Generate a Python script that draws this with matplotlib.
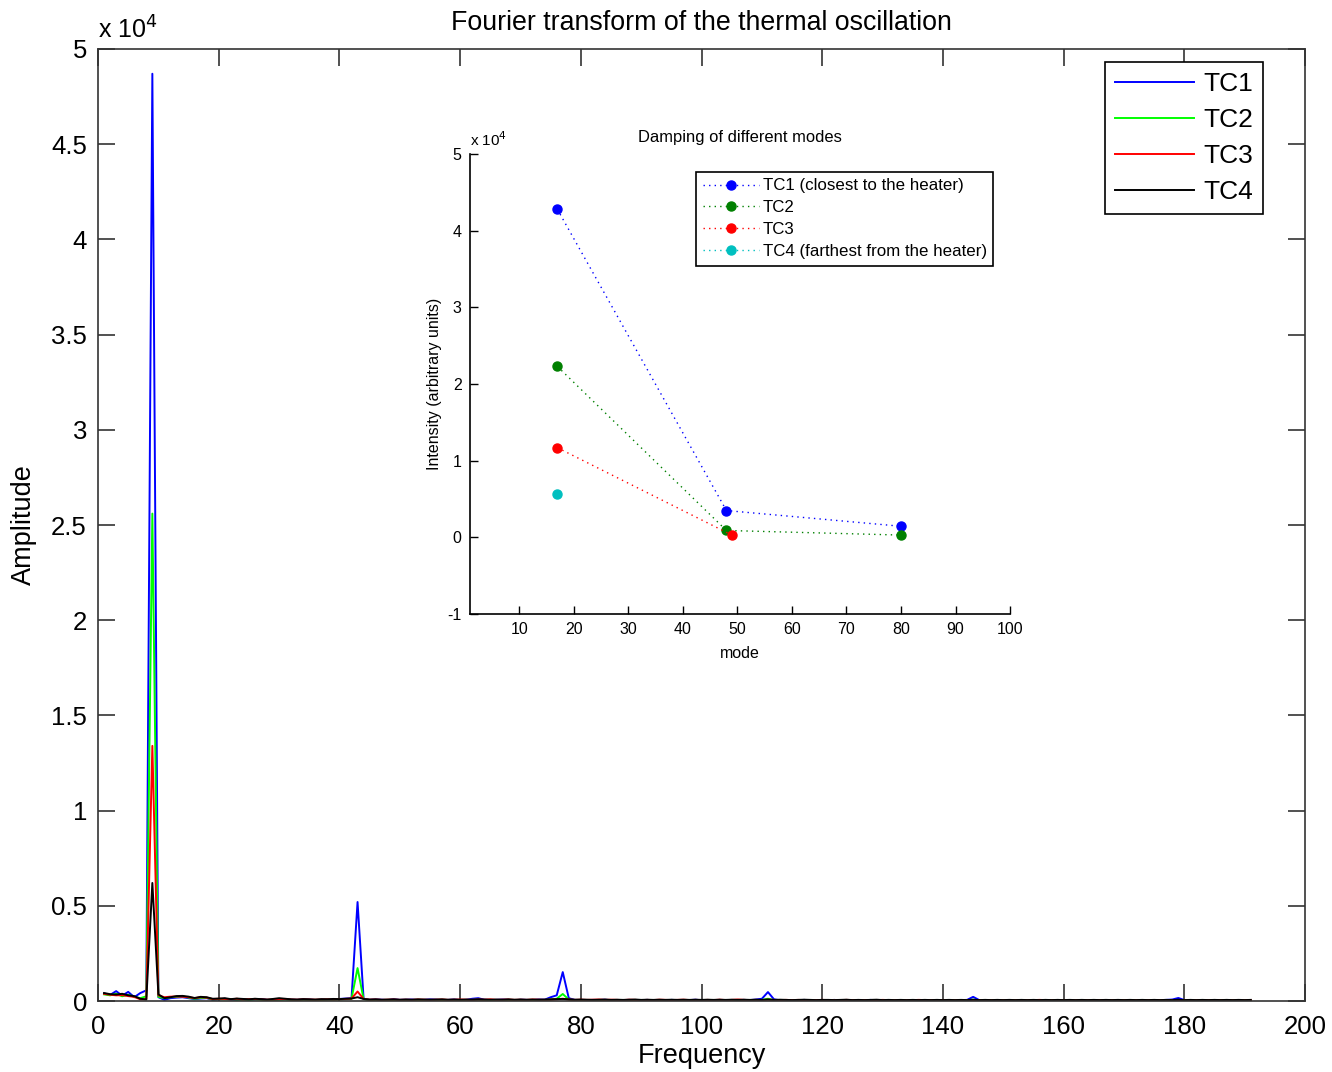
import matplotlib
matplotlib.use("Agg")
import matplotlib.pyplot as plt
from matplotlib.ticker import FuncFormatter
import numpy as np

plt.rcParams['font.family'] = ['Liberation Sans', 'DejaVu Sans']

# frequency bins of the FFT (1..191)
freq = np.arange(1, 192)

# amplitude spectra of the four thermocouples
tc1 = [400, 320, 520, 280, 480, 200, 420, 560, 48700, 200,
       60, 150, 180, 200, 150, 100, 130, 150, 60, 90,
       120, 80, 60, 100, 70, 90, 110, 60, 50, 80,
       100, 70, 60, 90, 80, 50, 70, 100, 90, 110,
       130, 150, 5200, 120, 60, 80, 70, 50, 90, 60,
       70, 80, 50, 60, 90, 70, 40, 60, 80, 50,
       60, 120, 150, 70, 50, 60, 80, 60, 40, 70,
       60, 50, 80, 70, 200, 300, 1520, 150, 60, 50,
       40, 60, 50, 70, 40, 30, 50, 60, 40, 50,
       60, 40, 50, 30, 60, 50, 40, 50, 70, 40,
       50, 40, 60, 30, 50, 40, 60, 50, 80, 120,
       470, 90, 40, 50, 30, 40, 60, 40, 30, 50,
       40, 60, 30, 40, 50, 30, 40, 60, 40, 30,
       50, 40, 30, 50, 40, 30, 40, 50, 30, 40,
       30, 40, 50, 60, 220, 50, 30, 40, 30, 50,
       40, 30, 40, 50, 30, 40, 30, 40, 50, 30,
       40, 30, 50, 40, 30, 40, 30, 40, 30, 50,
       40, 30, 40, 30, 40, 50, 60, 80, 160, 50,
       30, 40, 30, 40, 30, 40, 30, 40, 30, 40, 30]
tc2 = [350, 300, 380, 250, 330, 220, 150, 250, 25600, 220,
       150, 200, 220, 250, 180, 120, 160, 170, 80, 100,
       90, 100, 70, 80, 60, 90, 70, 50, 60, 70,
       80, 60, 50, 70, 60, 50, 60, 80, 70, 90,
       100, 120, 1730, 100, 50, 60, 50, 40, 60, 50,
       60, 50, 40, 50, 60, 50, 40, 50, 60, 40,
       50, 60, 70, 50, 40, 50, 60, 40, 50, 60,
       50, 40, 60, 50, 80, 120, 370, 80, 50, 40,
       50, 40, 30, 50, 40, 30, 40, 50, 30, 40,
       40, 30, 40, 30, 50, 40, 30, 40, 50, 30,
       40, 30, 40, 30, 40, 30, 40, 50, 40, 60,
       120, 50, 30, 40, 30, 40, 30, 40, 30, 40,
       30, 40, 30, 40, 30, 40, 30, 40, 30, 40,
       40, 30, 40, 30, 40, 30, 40, 30, 40, 30,
       30, 40, 30, 40, 70, 40, 30, 40, 30, 40,
       30, 40, 30, 40, 30, 40, 30, 40, 30, 40,
       30, 40, 30, 40, 30, 40, 30, 40, 30, 40,
       30, 40, 30, 40, 30, 40, 30, 40, 50, 40,
       30, 40, 30, 40, 30, 40, 30, 40, 30, 40, 30]
tc3 = [380, 330, 300, 310, 260, 220, 90, 100, 13400, 300,
       200, 230, 240, 230, 200, 150, 200, 180, 100, 120,
       110, 90, 120, 80, 100, 110, 90, 70, 80, 100,
       110, 80, 70, 90, 80, 70, 80, 90, 80, 90,
       110, 130, 500, 110, 70, 80, 60, 70, 80, 60,
       70, 60, 80, 70, 60, 70, 80, 60, 70, 80,
       70, 60, 80, 70, 90, 60, 70, 80, 60, 70,
       60, 80, 70, 60, 70, 90, 120, 80, 60, 70,
       60, 70, 80, 60, 70, 60, 50, 70, 60, 50,
       60, 50, 70, 60, 50, 60, 70, 50, 60, 50,
       60, 50, 70, 50, 60, 80, 60, 50, 60, 50,
       70, 60, 50, 60, 50, 60, 50, 40, 50, 60,
       50, 40, 50, 60, 50, 40, 50, 40, 50, 60,
       50, 40, 50, 40, 50, 60, 50, 40, 50, 40,
       50, 40, 50, 40, 50, 40, 50, 40, 50, 40,
       50, 40, 50, 40, 50, 60, 50, 40, 50, 40,
       50, 40, 50, 40, 50, 40, 50, 40, 50, 40,
       50, 40, 50, 40, 50, 40, 50, 40, 50, 40,
       50, 40, 50, 40, 50, 40, 50, 40, 50, 40, 50]
tc4 = [420, 360, 340, 380, 300, 260, 120, 80, 6200, 350,
       150, 200, 260, 270, 230, 160, 220, 200, 120, 130,
       150, 100, 130, 110, 90, 120, 100, 80, 110, 150,
       120, 90, 80, 100, 90, 80, 100, 90, 110, 100,
       120, 130, 200, 110, 80, 90, 70, 80, 90, 70,
       80, 70, 90, 80, 70, 80, 90, 70, 80, 70,
       80, 70, 90, 80, 70, 80, 70, 90, 70, 80,
       70, 80, 70, 80, 90, 100, 110, 90, 70, 80,
       70, 60, 70, 80, 60, 70, 60, 70, 80, 60,
       70, 60, 70, 60, 70, 60, 70, 60, 70, 60,
       70, 60, 70, 60, 70, 60, 70, 60, 70, 60,
       80, 60, 70, 60, 50, 60, 70, 60, 50, 60,
       60, 50, 60, 70, 50, 60, 50, 60, 70, 50,
       60, 50, 60, 50, 60, 50, 60, 50, 60, 50,
       60, 50, 60, 50, 70, 50, 60, 50, 60, 50,
       60, 50, 60, 50, 60, 50, 60, 50, 60, 50,
       60, 50, 60, 50, 60, 50, 60, 50, 60, 50,
       60, 50, 60, 50, 60, 50, 60, 50, 70, 50,
       60, 50, 60, 50, 60, 50, 60, 50, 60, 50, 60]

# inset: peak intensity per mode
modes_tc1 = [17, 48, 80]
peaks_tc1 = [42800, 3500, 1450]
modes_tc2 = [17, 48, 80]
peaks_tc2 = [22300, 900, 300]
modes_tc3 = [17, 49]
peaks_tc3 = [11700, 300]
modes_tc4 = [17]
peaks_tc4 = [5600]

fig = plt.figure(figsize=(13.32, 10.72), dpi=100)
ax = fig.add_axes([0.0736, 0.0662, 0.9062, 0.8881])

ax.plot(freq, tc1, color='#0000ff', lw=1.4, label='TC1')
ax.plot(freq, tc2, color='#00ff00', lw=1.4, label='TC2')
ax.plot(freq, tc3, color='#ff0000', lw=1.4, label='TC3')
ax.plot(freq, tc4, color='#000000', lw=1.4, label='TC4')

ax.set_xlim(0, 200)
ax.set_ylim(0, 50000)
ax.set_xticks(np.arange(0, 201, 20))
ax.set_yticks(np.arange(0, 50001, 5000))
ax.yaxis.set_major_formatter(FuncFormatter(lambda v, p: f'{v/1e4:g}'))
ax.tick_params(direction='in', length=12, width=1.2, top=True, right=True,
               labelsize=18.5, color='#333333')
ax.tick_params(axis='x', pad=10)
ax.tick_params(axis='y', pad=8)
for s in ax.spines.values():
    s.set_color('#333333')
    s.set_linewidth(1.2)
ax.set_xlabel('Frequency', fontsize=19.5, labelpad=3)
ax.set_ylabel('Amplitude', fontsize=19.5, labelpad=10)
ax.set_title('Fourier transform of the thermal oscillation', fontsize=19.3, pad=14)
ax.text(0.0, 1.006, r'x 10$^{4}$', transform=ax.transAxes, fontsize=18,
        ha='left', va='bottom')

leg = ax.legend(loc='upper right', bbox_to_anchor=(0.9653, 0.986), fontsize=19,
                handlelength=3.0, labelspacing=0.46, fancybox=False,
                framealpha=1, handletextpad=0.35, borderpad=0.37,
                borderaxespad=0)
leg.get_frame().set_edgecolor('#000000')
leg.get_frame().set_linewidth(1.2)

# inset axes
ins = fig.add_axes([0.3529, 0.4272, 0.4054, 0.4291])
ins.plot(modes_tc1, peaks_tc1, color='#0000ff', ls=(0, (1, 3)), marker='o',
         ms=6.5, lw=1, label='TC1 (closest to the heater)')
ins.plot(modes_tc2, peaks_tc2, color='#008000', ls=(0, (1, 3)), marker='o',
         ms=6.5, lw=1, label='TC2')
ins.plot(modes_tc3, peaks_tc3, color='#ff0000', ls=(0, (1, 3)), marker='o',
         ms=6.5, lw=1, label='TC3')
ins.plot(modes_tc4, peaks_tc4, color='#00bfbf', ls=(0, (1, 3)), marker='o',
         ms=6.5, lw=1, label='TC4 (farthest from the heater)')
ins.set_xlim(1, 100)
ins.set_ylim(-10000, 50000)
ins.set_xticks(np.arange(10, 101, 10))
ins.set_yticks(np.arange(-10000, 50001, 10000))
ins.yaxis.set_major_formatter(FuncFormatter(lambda v, p: f'{v/1e4:g}'))
ins.tick_params(direction='in', length=6, width=1, labelsize=11.5, pad=6)
for side in ['top', 'right']:
    ins.spines[side].set_visible(False)
for side in ['left', 'bottom']:
    ins.spines[side].set_linewidth(1.2)
ins.set_xlabel('mode', fontsize=11.5, labelpad=6)
ins.set_ylabel('Intensity (arbitrary units)', fontsize=11.5, labelpad=4)
ins.set_title('Damping of different modes', fontsize=11.9, pad=9)
ins.text(0.0, 1.01, r'x 10$^{4}$', transform=ins.transAxes, fontsize=11,
         ha='left', va='bottom')
ileg = ins.legend(loc='upper right', bbox_to_anchor=(0.985, 0.98), fontsize=12.2,
                  handlelength=3.3, fancybox=False, framealpha=1,
                  labelspacing=0.4, handletextpad=0.2, borderpad=0.4)
ileg.get_frame().set_edgecolor('#000000')
ileg.get_frame().set_linewidth(1.2)

fig.savefig('out.png', dpi=100)
